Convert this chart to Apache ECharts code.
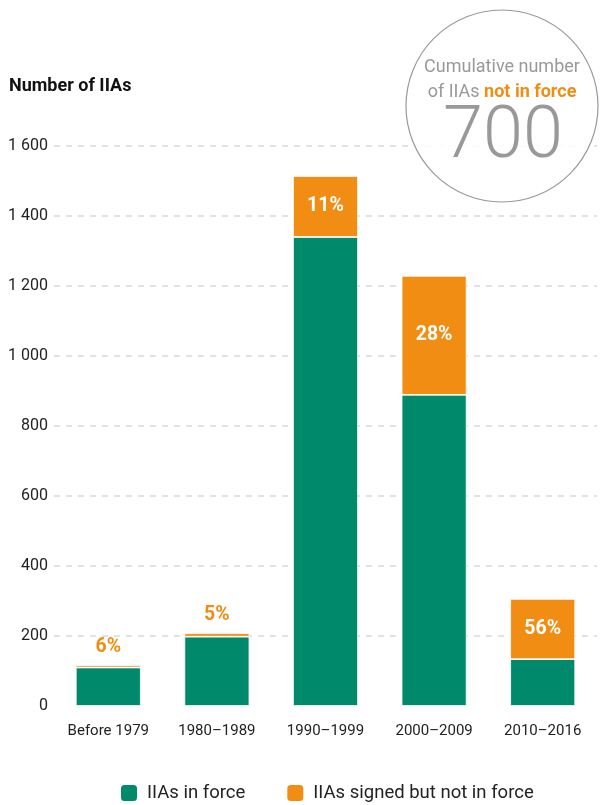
<!DOCTYPE html>
<html>
<head>
<meta charset="utf-8">
<script src="https://cdn.jsdelivr.net/npm/echarts@6/dist/echarts.min.js"></script>
<style>html,body{margin:0;padding:0;background:#fff}#c{width:600px;height:805px}</style>
</head>
<body>
<div id="c"></div>
<script>
var categories = ['Before 1979', '1980\u20131989', '1990\u20131999', '2000\u20132009', '2010\u20132016'];
var inForce = [110, 198, 1340, 889, 134];
var notInForce = [7, 10, 174, 340, 172];
var pctLabels = ['6%', '5%', '11%', '28%', '56%'];
var pctInside = [false, false, true, true, true];
var yTicks = [0, 200, 400, 600, 800, 1000, 1200, 1400, 1600];
var totalNotInForce = '700';

var FONT = 'Roboto, "Liberation Sans", sans-serif';
var GREEN = '#00896A';
var ORANGE = '#F18D13';

var chart = echarts.init(document.getElementById('c'), null, {renderer: 'canvas'});

var orangeData = notInForce.map(function (v, i) {
  return {
    value: v,
    label: pctInside[i] ? {
      show: true, position: 'inside', color: '#fff', formatter: pctLabels[i]
    } : {
      show: true, position: 'top', distance: 8, color: ORANGE, formatter: pctLabels[i]
    }
  };
});

chart.setOption({
  animation: false,
  textStyle: {fontFamily: FONT},
  grid: {left: 54, right: 3, top: 146, bottom: 99},
  xAxis: {
    type: 'category',
    data: categories,
    axisLine: {show: true, lineStyle: {color: '#fff', width: 3}},
    axisTick: {show: false},
    axisLabel: {color: '#222', fontSize: 15, fontFamily: FONT, margin: 18, interval: 0}
  },
  yAxis: {
    type: 'value',
    min: yTicks[0],
    max: yTicks[yTicks.length - 1],
    interval: 200,
    axisLine: {show: false},
    axisTick: {show: false},
    axisLabel: {
      color: '#222', fontSize: 16, fontFamily: FONT, margin: 6,
      formatter: function (v) { return String(v).replace(/\B(?=(\d{3})+(?!\d))/g, ' '); }
    },
    splitLine: {show: true, lineStyle: {color: '#d9d9d9', type: [6, 6], width: 1.5}}
  },
  legend: {
    bottom: -3, left: 114,
    itemWidth: 18, itemHeight: 18, itemGap: 40,
    icon: 'roundRect',
    textStyle: {color: '#222', fontSize: 18.5, fontFamily: FONT, padding: [0, 0, 0, 4]},
    data: ['IIAs in force', 'IIAs signed but not in force']
  },
  series: [
    {
      name: 'IIAs in force', type: 'bar', stack: 's', barWidth: 65,
      itemStyle: {color: GREEN, borderColor: '#fff', borderWidth: 0.8},
      data: inForce
    },
    {
      name: 'IIAs signed but not in force', type: 'bar', stack: 's', barWidth: 65,
      itemStyle: {color: ORANGE, borderColor: '#fff', borderWidth: 0.8},
      label: {fontSize: 19.5, fontWeight: 'bold', fontFamily: FONT},
      data: orangeData
    }
  ],
  graphic: [
    {type: 'text', left: 9, top: 77, style: {text: 'Number of IIAs', font: 'bold 18px ' + FONT, fill: '#111'}},
    {type: 'circle', shape: {cx: 502, cy: 106, r: 96}, style: {fill: 'rgba(255,255,255,0.9)', stroke: '#999', lineWidth: 1.2}, z: 100},
    {type: 'text', x: 502, y: 67, z: 101, style: {text: 'Cumulative number', font: '18px ' + FONT, fill: '#999', align: 'center', verticalAlign: 'middle'}},
    {type: 'text', x: 502, y: 92, z: 101, style: {
      text: '{a|of IIAs }{b|not in force}', align: 'center', verticalAlign: 'middle',
      rich: {a: {font: '18px ' + FONT, fill: '#999'}, b: {font: 'bold 18px ' + FONT, fill: ORANGE}}
    }},
    {type: 'text', x: 503, y: 139, z: 101, style: {text: totalNotInForce, font: '300 72px ' + FONT, fill: '#999', align: 'center', verticalAlign: 'middle'}}
  ]
});
</script>
</body>
</html>
